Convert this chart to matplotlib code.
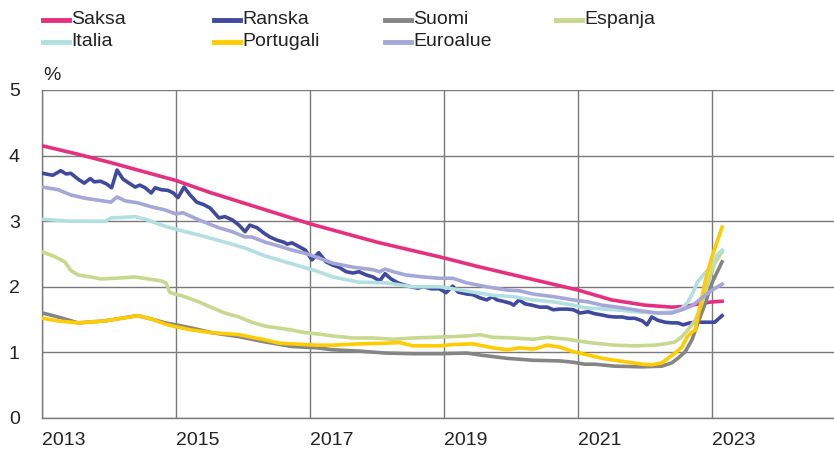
import matplotlib.pyplot as plt
from matplotlib.lines import Line2D

plt.rcParams['font.family'] = ['Liberation Sans', 'DejaVu Sans']

# 10-year government bond yields, %
saksa_x = [2013.0, 2013.5, 2014.0, 2014.5, 2015.0, 2015.5, 2016.0, 2016.5, 2017.0, 2017.5,
           2018.0, 2018.5, 2019.0, 2019.5, 2020.0, 2020.5, 2021.0, 2021.5, 2022.0, 2022.4,
           2022.6, 2022.8, 2023.0, 2023.15]
saksa_y = [4.15, 4.03, 3.90, 3.76, 3.62, 3.44, 3.28, 3.12, 2.96, 2.82,
           2.68, 2.56, 2.44, 2.31, 2.19, 2.07, 1.95, 1.80, 1.72, 1.69,
           1.70, 1.74, 1.77, 1.78]

ranska_x = [2013.01, 2013.16, 2013.28, 2013.36, 2013.43, 2013.54, 2013.63, 2013.72, 2013.78, 2013.87,
            2013.96, 2014.04, 2014.12, 2014.21, 2014.30, 2014.39, 2014.46, 2014.54, 2014.63, 2014.69,
            2014.78, 2014.88, 2014.96, 2015.03, 2015.12, 2015.21, 2015.31, 2015.42, 2015.51, 2015.58,
            2015.64, 2015.73, 2015.84, 2015.94, 2016.03, 2016.10, 2016.21, 2016.31, 2016.40, 2016.51,
            2016.61, 2016.66, 2016.73, 2016.84, 2016.93, 2017.03, 2017.13, 2017.24, 2017.34, 2017.43,
            2017.54, 2017.64, 2017.73, 2017.84, 2017.94, 2018.04, 2018.12, 2018.21, 2018.31, 2018.40,
            2018.51, 2018.61, 2018.70, 2018.81, 2018.93, 2019.03, 2019.13, 2019.21, 2019.34, 2019.43,
            2019.54, 2019.64, 2019.72, 2019.79, 2019.88, 2019.99, 2020.04, 2020.12, 2020.21, 2020.31,
            2020.43, 2020.54, 2020.63, 2020.73, 2020.84, 2020.93, 2021.03, 2021.15, 2021.25, 2021.36,
            2021.45, 2021.55, 2021.66, 2021.75, 2021.85, 2021.96, 2022.03, 2022.10, 2022.19, 2022.30,
            2022.40, 2022.49, 2022.57, 2022.67, 2022.78, 2022.90, 2023.04, 2023.15]
ranska_y = [3.73, 3.70, 3.77, 3.72, 3.73, 3.64, 3.58, 3.65, 3.60, 3.61,
            3.57, 3.51, 3.78, 3.64, 3.58, 3.52, 3.55, 3.51, 3.43, 3.51,
            3.48, 3.47, 3.43, 3.36, 3.52, 3.40, 3.29, 3.25, 3.20, 3.12,
            3.05, 3.07, 3.02, 2.94, 2.84, 2.94, 2.90, 2.82, 2.76, 2.71,
            2.68, 2.65, 2.67, 2.61, 2.56, 2.41, 2.52, 2.38, 2.33, 2.30,
            2.23, 2.21, 2.23, 2.18, 2.15, 2.09, 2.20, 2.12, 2.06, 2.03,
            2.00, 1.98, 2.00, 1.97, 1.97, 1.91, 2.01, 1.92, 1.89, 1.88,
            1.83, 1.80, 1.85, 1.80, 1.78, 1.75, 1.72, 1.80, 1.74, 1.72,
            1.69, 1.69, 1.65, 1.66, 1.66, 1.65, 1.60, 1.62, 1.59, 1.57,
            1.55, 1.54, 1.54, 1.52, 1.52, 1.48, 1.42, 1.54, 1.49, 1.46,
            1.45, 1.45, 1.42, 1.45, 1.46, 1.46, 1.46, 1.56]

suomi_x = [2013.01, 2013.24, 2013.54, 2013.94, 2014.18, 2014.43, 2014.63, 2014.84, 2015.0, 2015.24,
           2015.54, 2015.94, 2016.33, 2016.73, 2017.10, 2017.34, 2017.73, 2018.13, 2018.54, 2018.94,
           2019.34, 2019.54, 2019.94, 2020.33, 2020.73, 2020.93, 2021.10, 2021.25, 2021.55, 2021.96,
           2022.25, 2022.40, 2022.49, 2022.60, 2022.70, 2022.79, 2022.90, 2023.0, 2023.15]
suomi_y = [1.60, 1.54, 1.45, 1.48, 1.52, 1.56, 1.51, 1.45, 1.42, 1.37,
           1.30, 1.24, 1.16, 1.09, 1.07, 1.04, 1.02, 0.99, 0.98, 0.98,
           0.99, 0.96, 0.91, 0.88, 0.87, 0.85, 0.82, 0.82, 0.79, 0.78,
           0.79, 0.84, 0.91, 1.01, 1.19, 1.45, 1.75, 2.06, 2.38]

espanja_x = [2013.01, 2013.19, 2013.34, 2013.43, 2013.54, 2013.73, 2013.88, 2014.09, 2014.39, 2014.58,
             2014.78, 2014.85, 2014.91, 2015.10, 2015.34, 2015.54, 2015.73, 2015.94, 2016.13, 2016.33,
             2016.54, 2016.73, 2016.93, 2017.13, 2017.34, 2017.64, 2017.94, 2018.24, 2018.54, 2018.84,
             2019.10, 2019.34, 2019.54, 2019.73, 2020.03, 2020.33, 2020.54, 2020.84, 2021.10, 2021.25,
             2021.55, 2021.85, 2022.15, 2022.30, 2022.45, 2022.55, 2022.64, 2022.75, 2022.85, 2022.94,
             2023.04, 2023.15]
espanja_y = [2.53, 2.46, 2.38, 2.25, 2.18, 2.15, 2.12, 2.13, 2.15, 2.12,
             2.09, 2.06, 1.91, 1.86, 1.77, 1.68, 1.60, 1.54, 1.46, 1.40,
             1.37, 1.34, 1.30, 1.28, 1.25, 1.22, 1.22, 1.20, 1.22, 1.23,
             1.24, 1.25, 1.27, 1.23, 1.22, 1.20, 1.23, 1.20, 1.16, 1.14,
             1.11, 1.10, 1.11, 1.13, 1.16, 1.24, 1.34, 1.49, 1.75, 2.06,
             2.36, 2.53]

italia_x = [2013.01, 2013.43, 2013.94, 2014.03, 2014.24, 2014.39, 2014.54, 2014.73, 2014.88, 2015.10,
            2015.34, 2015.73, 2016.03, 2016.33, 2016.63, 2016.93, 2017.10, 2017.34, 2017.73, 2018.13,
            2018.54, 2018.94, 2019.13, 2019.43, 2019.73, 2020.03, 2020.33, 2020.63, 2020.93, 2021.10,
            2021.25, 2021.55, 2021.85, 2022.15, 2022.40, 2022.55, 2022.64, 2022.72, 2022.78, 2022.87,
            2023.0, 2023.07, 2023.15]
italia_y = [3.03, 3.00, 3.00, 3.05, 3.06, 3.07, 3.03, 2.96, 2.91, 2.85,
            2.79, 2.68, 2.59, 2.47, 2.38, 2.29, 2.24, 2.15, 2.07, 2.06,
            2.00, 2.00, 1.97, 1.92, 1.87, 1.85, 1.80, 1.77, 1.72, 1.68,
            1.67, 1.65, 1.62, 1.60, 1.62, 1.67, 1.77, 1.92, 2.07, 2.18,
            2.33, 2.48, 2.56]

portugali_x = [2013.01, 2013.24, 2013.54, 2013.94, 2014.18, 2014.43, 2014.63, 2014.84, 2015.0, 2015.24,
               2015.54, 2015.94, 2016.33, 2016.54, 2016.73, 2017.10, 2017.34, 2017.73, 2018.13, 2018.33,
               2018.54, 2018.94, 2019.13, 2019.43, 2019.73, 2019.94, 2020.13, 2020.33, 2020.54, 2020.73,
               2020.93, 2021.15, 2021.36, 2021.55, 2021.75, 2021.96, 2022.10, 2022.25, 2022.34, 2022.45,
               2022.55, 2022.63, 2022.70, 2022.75, 2022.82, 2022.90, 2023.0, 2023.15]
portugali_y = [1.52, 1.48, 1.45, 1.48, 1.52, 1.56, 1.51, 1.43, 1.39, 1.34,
               1.30, 1.27, 1.19, 1.14, 1.13, 1.11, 1.11, 1.13, 1.14, 1.15,
               1.10, 1.10, 1.12, 1.13, 1.07, 1.04, 1.07, 1.05, 1.11, 1.08,
               1.01, 0.96, 0.91, 0.88, 0.85, 0.82, 0.81, 0.84, 0.91, 0.99,
               1.08, 1.24, 1.31, 1.34, 1.69, 2.10, 2.46, 2.91]

euroalue_x = [2013.01, 2013.24, 2013.43, 2013.64, 2013.84, 2014.03, 2014.12, 2014.24, 2014.43, 2014.63,
              2014.84, 2015.0, 2015.10, 2015.34, 2015.64, 2015.84, 2016.03, 2016.13, 2016.33, 2016.54,
              2016.73, 2016.93, 2017.13, 2017.34, 2017.64, 2017.94, 2018.04, 2018.12, 2018.24, 2018.43,
              2018.69, 2018.93, 2019.13, 2019.34, 2019.64, 2019.94, 2020.12, 2020.33, 2020.63, 2020.93,
              2021.15, 2021.36, 2021.66, 2021.96, 2022.19, 2022.40, 2022.55, 2022.70, 2022.85, 2023.0,
              2023.15]
euroalue_y = [3.52, 3.48, 3.40, 3.35, 3.32, 3.29, 3.37, 3.31, 3.28, 3.22,
              3.17, 3.11, 3.13, 3.02, 2.90, 2.84, 2.76, 2.76, 2.68, 2.62,
              2.56, 2.51, 2.44, 2.36, 2.30, 2.26, 2.23, 2.27, 2.23, 2.18,
              2.15, 2.13, 2.13, 2.06, 2.00, 1.95, 1.94, 1.89, 1.85, 1.80,
              1.77, 1.72, 1.68, 1.63, 1.60, 1.60, 1.65, 1.71, 1.83, 1.95,
              2.04]

series = [
    ('Saksa', saksa_x, saksa_y, '#e6307f'),
    ('Ranska', ranska_x, ranska_y, '#3f4a9e'),
    ('Suomi', suomi_x, suomi_y, '#858585'),
    ('Espanja', espanja_x, espanja_y, '#c6d98f'),
    ('Italia', italia_x, italia_y, '#b2e0e1'),
    ('Portugali', portugali_x, portugali_y, '#ffcc00'),
    ('Euroalue', euroalue_x, euroalue_y, '#a5a7d8'),
]

year_ticks = [2013, 2015, 2017, 2019, 2021, 2023]

W, H = 834, 453
fig = plt.figure(figsize=(W / 100, H / 100), dpi=100)
ax = fig.add_axes([42 / W, 1 - 418 / H, 1 - 42 / W, (418 - 90) / H])

for name, xs, ys, col in series:
    ax.plot(xs, ys, color=col, lw=2.6, solid_joinstyle='round', zorder=3)

ax.set_xlim(2013, 2013 + (W - 42) / 67)
ax.set_ylim(0, 5)
ax.set_yticks(range(6))
ax.set_xticks(year_ticks)
ax.set_xticklabels([str(y) for y in year_ticks], ha='left')
ax.tick_params(length=0, labelsize=14, colors='#222222')
ax.tick_params(axis='y', pad=16)
ax.tick_params(axis='x', pad=10)
ax.grid(True, color='#7a7a7a', lw=1)
for s in ['top', 'right']:
    ax.spines[s].set_visible(False)
for s in ['left', 'bottom']:
    ax.spines[s].set_color('#7a7a7a')
    ax.spines[s].set_linewidth(1)

fig.text(52 / W, 1 - 75 / H, '%', ha='center', va='center', fontsize=14, color='#222222')

# legend laid out in fixed columns, two rows
for i, (name, xs, ys, col) in enumerate(series):
    row, c = divmod(i, 4)
    x0 = 43 + c * 171
    yc = 1 - (20 + row * 22) / H
    fig.add_artist(Line2D([x0 / W, (x0 + 26) / W], [yc, yc], color=col, lw=3.5,
                          transform=fig.transFigure))
    fig.text((x0 + 28) / W, yc, name, ha='left', va='center', fontsize=14, color='#222222')

fig.savefig('out.png', dpi=100)
